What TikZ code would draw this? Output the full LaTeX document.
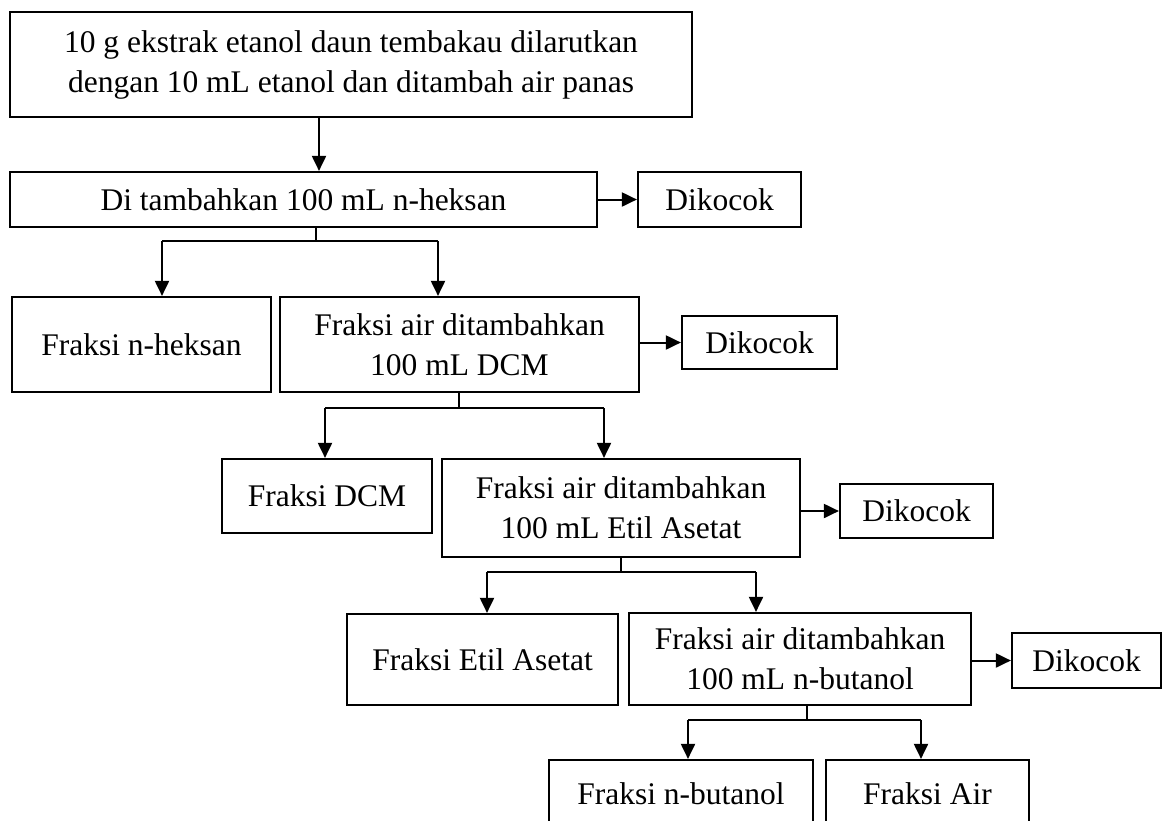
\documentclass[tikz,border=0pt]{standalone}
\usepackage{fontspec}
\setmainfont{Liberation Serif}
\usetikzlibrary{arrows.meta}
\tikzset{
  box/.style={draw, line width=2.2pt, inner sep=0pt, align=center, font=\fontsize{31.5}{40}\selectfont},
  arr/.style={line width=2pt, -{Triangle[width=14pt,length=15pt]}},
  stub/.style={line width=1.4pt},
  plain/.style={line width=2pt}
}
\begin{document}
\begin{tikzpicture}[x=1pt,y=-1pt]
\useasboundingbox (0,0) rectangle (1163,820);
% boxes
\node[box, minimum width=682pt, minimum height=105pt] (B1) at (351,64.5) {10 g ekstrak etanol daun tembakau dilarutkan\\dengan 10 mL etanol dan ditambah air panas};
\node[box, minimum width=587pt, minimum height=55pt] (B2) at (303.5,199.5) {Di tambahkan 100 mL n-heksan};
\node[box, minimum width=163pt, minimum height=55pt] (D1) at (719.5,199.5) {Dikocok};
\node[box, minimum width=259pt, minimum height=95pt] (FH) at (141.5,344.5) {Fraksi n-heksan};
\node[box, minimum width=359pt, minimum height=95pt] (BDCM) at (459.5,344.5) {Fraksi air ditambahkan\\100 mL DCM};
\node[box, minimum width=155pt, minimum height=53pt] (D2) at (759.5,342.5) {Dikocok};
\node[box, minimum width=210pt, minimum height=74pt] (FDCM) at (327,496) {Fraksi DCM};
\node[box, minimum width=358pt, minimum height=98pt] (BEtil) at (621,508) {Fraksi air ditambahkan\\100 mL Etil Asetat};
\node[box, minimum width=153pt, minimum height=54pt] (D3) at (916.5,511) {Dikocok};
\node[box, minimum width=271pt, minimum height=91pt] (FEtil) at (482.5,659.5) {Fraksi Etil Asetat};
\node[box, minimum width=342pt, minimum height=92pt] (BBut) at (800,659) {Fraksi air ditambahkan\\100 mL n-butanol};
\node[box, minimum width=149pt, minimum height=55pt] (D4) at (1086.5,660.5) {Dikocok};
\node[box, minimum width=264pt, minimum height=68pt] (FBut) at (681,794) {Fraksi n-butanol};
\node[box, minimum width=203pt, minimum height=68pt] (FAir) at (927.5,794) {Fraksi Air};
% helper coordinates
\coordinate (a0) at (319,0);
\coordinate (k1) at (316,241);
\coordinate (a1l) at (162,0);
\coordinate (a1r) at (438,0);
\coordinate (k2) at (459,408);
\coordinate (a2l) at (325,0);
\coordinate (a2r) at (604,0);
\coordinate (k3) at (621,572);
\coordinate (a3l) at (487,0);
\coordinate (a3r) at (756,0);
\coordinate (k4) at (807,720);
\coordinate (a4l) at (688,0);
\coordinate (a4r) at (921,0);
% vertical main arrow
\draw[arr] (B1.south -| a0) -- (B2.north -| a0);
% branches
\draw[stub] (B2.south -| k1) -- (k1);
\draw[plain] (k1 -| a1l) -- (k1 -| a1r);
\draw[arr] (k1 -| a1l) -- (FH.north -| a1l);
\draw[arr] (k1 -| a1r) -- (BDCM.north -| a1r);
\draw[stub] (BDCM.south -| k2) -- (k2);
\draw[plain] (k2 -| a2l) -- (k2 -| a2r);
\draw[arr] (k2 -| a2l) -- (FDCM.north -| a2l);
\draw[arr] (k2 -| a2r) -- (BEtil.north -| a2r);
\draw[stub] (BEtil.south -| k3) -- (k3);
\draw[plain] (k3 -| a3l) -- (k3 -| a3r);
\draw[arr] (k3 -| a3l) -- (FEtil.north -| a3l);
\draw[arr] (k3 -| a3r) -- (BBut.north -| a3r);
\draw[stub] (BBut.south -| k4) -- (k4);
\draw[plain] (k4 -| a4l) -- (k4 -| a4r);
\draw[arr] (k4 -| a4l) -- (FBut.north -| a4l);
\draw[arr] (k4 -| a4r) -- (FAir.north -| a4r);
% side arrows
\draw[arr] (B2.east) -- (D1.west);
\draw[arr] (BDCM.east |- D2.west) -- (D2.west);
\draw[arr] (BEtil.east |- D3.west) -- (D3.west);
\draw[arr] (BBut.east |- D4.west) -- (D4.west);
\end{tikzpicture}
\end{document}
